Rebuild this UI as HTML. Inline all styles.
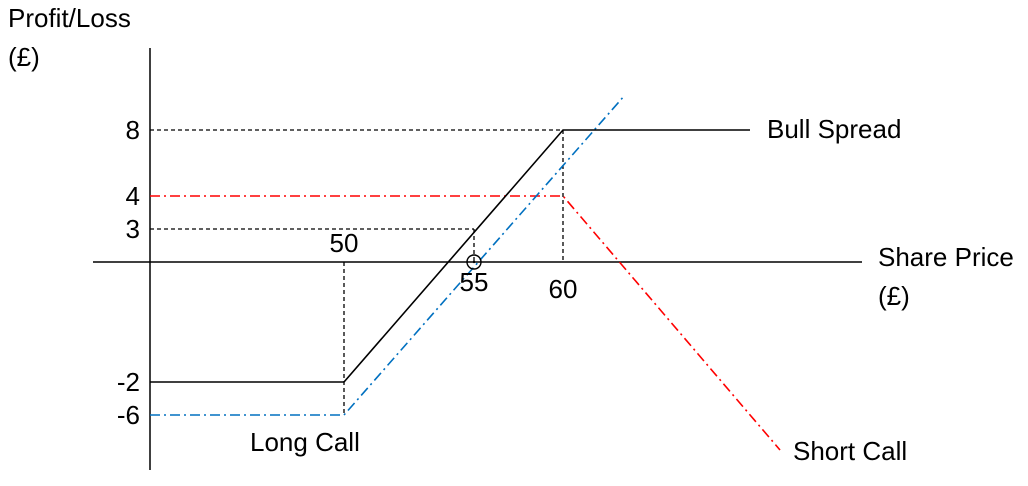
<!DOCTYPE html>
<html><head><meta charset="utf-8"><style>
html,body{margin:0;padding:0;background:#fff;}
svg{display:block;font-family:"Liberation Sans",sans-serif;}
text{font-size:26px;fill:#000;}
</style></head><body>
<svg id="chart" width="1028" height="486" viewBox="0 0 1028 486" xmlns="http://www.w3.org/2000/svg">
<line x1="150" y1="48" x2="150" y2="470" stroke="#000" stroke-width="1.5"/>
<line x1="93" y1="262" x2="862" y2="262" stroke="#000" stroke-width="1.5"/>
<text x="8" y="27">Profit/Loss</text>
<text x="8" y="66">(£)</text>
<text x="878" y="266">Share Price</text>
<text x="878" y="305">(£)</text>
<g id="marks"></g>
</svg>
<script>
const yTickValues = [8, 4, 3, -2, -6];
const xTickValues = [50, 55, 60];
const bullPrices = [40, 50, 60, 68];
const bullValues = [-2, -2, 8, 8];
const longPrices = [40, 50, 64];
const longValues = [-6, -6, 10];
const shortPrices = [40, 60, 70];
const shortValues = [4, 4, -9];

// schematic (non-linear) axes: piecewise-linear anchors
const xDom = [40, 50, 55, 60, 64, 68, 70], xRng = [150, 344, 474, 563, 625, 750, 780];
const yDom = [-9, -6, -2, 0, 3, 4, 8, 10], yRng = [450, 415, 382, 262, 229, 196, 130, 95];
function pw(v, d, r){
  for(let i=0;i<d.length-1;i++){
    if(v<=d[i+1]||i===d.length-2){return r[i]+(v-d[i])*(r[i+1]-r[i])/(d[i+1]-d[i]);}
  }
}
const X = v => pw(v, xDom, xRng);
const Y = v => pw(v, yDom, yRng);
const NS = "http://www.w3.org/2000/svg";
const g = document.getElementById('marks');
function mk(tag, attrs){const e=document.createElementNS(NS,tag);for(const k in attrs)e.setAttribute(k,attrs[k]);g.appendChild(e);return e;}

let e;
e = mk('line',{x1:150,y1:Y(8),x2:X(60),y2:Y(8),stroke:'#000','stroke-dasharray':'4,3','stroke-width':1.3});


e = mk('line',{x1:150,y1:Y(3),x2:X(55),y2:Y(3),stroke:'#000','stroke-dasharray':'4,3','stroke-width':1.3});


e = mk('line',{x1:X(50),y1:Y(0),x2:X(50),y2:Y(-6),stroke:'#000','stroke-dasharray':'4,3','stroke-width':1.3});


e = mk('line',{x1:X(55),y1:Y(3),x2:X(55),y2:Y(0),stroke:'#000','stroke-dasharray':'4,3','stroke-width':1.3});


e = mk('line',{x1:X(60),y1:Y(8),x2:X(60),y2:Y(0),stroke:'#000','stroke-dasharray':'4,3','stroke-width':1.3});



function series(px, vals, color, dash, name){
  const pts = px.map((p,i)=>X(p)+','+Y(vals[i])).join(' ');
  const attrs = {points:pts,fill:'none',stroke:color,'stroke-width':1.6};
  if(dash) attrs['stroke-dasharray']=dash;
  const l = mk('polyline',attrs);
  
  
}
series(shortPrices, shortValues, '#ff0000', '10,4,2,4', 'short-call-line');
series(longPrices, longValues, '#0070c0', '10,4,2,4', 'long-call-line');
series(bullPrices, bullValues, '#000', null, 'bull-spread-line');

e = mk('circle',{cx:X(55),cy:Y(0),r:7,fill:'none',stroke:'#000','stroke-width':1.4});


e = mk('circle',{cx:X(55),cy:Y(0),r:1.2,fill:'#000'});



yTickValues.forEach(v=>{
  const t = mk('text',{x:140,y:Y(v)+9,'text-anchor':'end'});
  t.textContent = v;
  
  
});
const xLabelY = {50:252, 55:291, 60:298};
xTickValues.forEach(v=>{
  const t = mk('text',{x:X(v),y:xLabelY[v],'text-anchor':'middle'});
  t.textContent = v;
  
  
});
[['Bull Spread',767,138,'bull-spread-label'],['Long Call',250,451,'long-call-label'],['Short Call',793,460,'short-call-label']].forEach(a=>{
  const t = mk('text',{x:a[1],y:a[2]});
  t.textContent = a[0];
  
  
});
</script>
</body></html>
